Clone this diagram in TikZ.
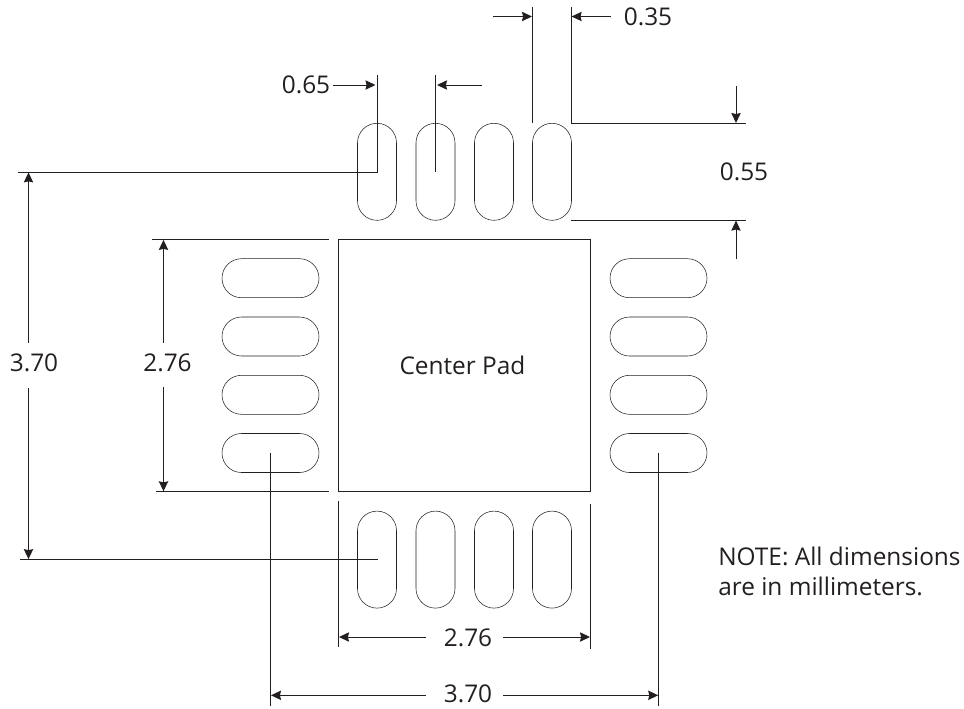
\documentclass[tikz,border=0pt]{standalone}
\usepackage{fontspec}
\setmainfont{Open Sans}
\usetikzlibrary{arrows.meta, shapes.misc}
\definecolor{ink}{HTML}{231F20}
\tikzset{
  pad/.style = {draw = ink, rounded rectangle, minimum width = 72.75pt, minimum height = 29.25pt, inner sep = 0, outer sep = 0},
  extline/.style = {draw = ink, line width = 0.7pt},
  dimline/.style = {extline, -{Stealth[length = 7.5pt, width = 7pt, inset = 0.8pt]}},
  lbl/.style = {text = ink, font = \fontsize{18.3}{22.5}\selectfont, inner sep = 0}
}

\begin{document}
\begin{tikzpicture}[x = 0.75pt, y = -0.75pt]
    \useasboundingbox (0, 0) rectangle (964, 708);

    % pads
    \foreach \i/\x in {1/377, 2/435.5, 3/494, 4/552} {
      \node [pad, rotate = 90] (top\i) at (\x, 171.8) {};
      \node [pad, rotate = 90] (bot\i) at (\x, 559.6) {};
    }
    \foreach \i/\y in {1/278.2, 2/336.5, 3/394.8, 4/453} {
      \node [pad] (lft\i) at (270.5, \y) {};
      \node [pad] (rgt\i) at (658.5, \y) {};
    }
    \node [draw = ink, line width = 0.7pt, minimum width = 188.5pt, minimum height = 189pt, inner sep = 0, outer sep = 0] (center) at (464.5, 365.5) {};

    % labels
    \node [lbl] (cname) at (462.5, 365) {Center Pad};
    \node [lbl] (w35) at (648, 17) {0.35};
    \node [lbl] (w65) at (306, 85) {0.65};
    \node [lbl] (h55) at (744, 172) {0.55};
    \node [lbl] (s370) at (34, 363) {3.70};
    \node [lbl] (c276) at (167.5, 363) {2.76};
    \node [lbl] (b276) at (468, 638) {2.76};
    \node [lbl] (b370) at (468, 694) {3.70};
    \node [lbl, anchor = north west, align = left] (note) at (718, 547) {NOTE: All dimensions\\are in millimeters.};

    % extension lines
    \coordinate (a1) at (532.3, 7);
    \coordinate (a2) at (532.3, 123.3);
    \coordinate (a3) at (571.3, 7);
    \coordinate (a4) at (571.3, 123.3);
    \coordinate (a5) at (746, 123.3);
    \coordinate (a6) at (571.3, 220.3);
    \coordinate (a7) at (746, 220.3);
    \draw [extline] (a1) -- (a2);
    \draw [extline] (a3) -- (a4) -- (a5);
    \draw [extline] (a6) -- (a7);

    \coordinate (p1) at (377, 75);
    \coordinate (p2) at (377, 172);
    \coordinate (p3) at (18, 172);
    \coordinate (p4) at (435.5, 75);
    \coordinate (p5) at (435.5, 172);
    \coordinate (p6) at (377.5, 559.5);
    \coordinate (p7) at (20, 559.5);
    \draw [extline] (p1) -- (p2) -- (p3);
    \draw [extline] (p4) -- (p5);
    \draw [extline] (p6) -- (p7);

    \coordinate (c1) at (152, 239.5);
    \coordinate (c2) at (329, 239.5);
    \coordinate (c3) at (156, 491.7);
    \coordinate (c4) at (329, 491.7);
    \draw [extline] (c1) -- (c2);
    \draw [extline] (c3) -- (c4);

    \coordinate (q1) at (270.5, 452.7);
    \coordinate (q2) at (270.5, 706);
    \coordinate (q3) at (658.7, 452.7);
    \coordinate (q4) at (658.7, 706);
    \coordinate (q5) at (338.5, 501);
    \coordinate (q6) at (338.5, 646.7);
    \coordinate (q7) at (590.7, 503.5);
    \coordinate (q8) at (590.7, 649);
    \draw [extline] (q1) -- (q2);
    \draw [extline] (q3) -- (q4);
    \draw [extline] (q5) -- (q6);
    \draw [extline] (q7) -- (q8);

    % dimension arrows
    \coordinate (d1) at (493.3, 16.5);
    \coordinate (d2) at (532, 16.5);
    \coordinate (d3) at (610.7, 16.5);
    \coordinate (d4) at (571.6, 16.5);
    \draw [dimline] (d1) -- (d2);
    \draw [dimline] (d3) -- (d4);

    \coordinate (e1) at (333, 85);
    \coordinate (e2) at (375.5, 85);
    \coordinate (e3) at (482, 85);
    \coordinate (e4) at (437, 85);
    \draw [dimline] (e1) -- (e2);
    \draw [dimline] (e3) -- (e4);

    \coordinate (f1) at (736, 86);
    \coordinate (f2) at (736, 123);
    \coordinate (f3) at (736, 259);
    \coordinate (f4) at (736, 220.6);
    \draw [dimline] (f1) -- (f2);
    \draw [dimline] (f3) -- (f4);

    \coordinate (g1) at (28.5, 343);
    \coordinate (g2) at (28.5, 172.4);
    \coordinate (g3) at (28.5, 388);
    \coordinate (g4) at (28.5, 559.1);
    \draw [dimline] (g1) -- (g2);
    \draw [dimline] (g3) -- (g4);

    \coordinate (h1) at (163.5, 343);
    \coordinate (h2) at (163.5, 239.9);
    \coordinate (h3) at (163.5, 387);
    \coordinate (h4) at (163.5, 491.3);
    \draw [dimline] (h1) -- (h2);
    \draw [dimline] (h3) -- (h4);

    \coordinate (k1) at (426, 637);
    \coordinate (k2) at (339, 637);
    \coordinate (k3) at (503.3, 637);
    \coordinate (k4) at (590, 637);
    \draw [dimline] (k1) -- (k2);
    \draw [dimline] (k3) -- (k4);

    \coordinate (m1) at (426, 695.3);
    \coordinate (m2) at (271, 695.3);
    \coordinate (m3) at (503.3, 695.3);
    \coordinate (m4) at (658.2, 695.3);
    \draw [dimline] (m1) -- (m2);
    \draw [dimline] (m3) -- (m4);
\end{tikzpicture}
\end{document}
